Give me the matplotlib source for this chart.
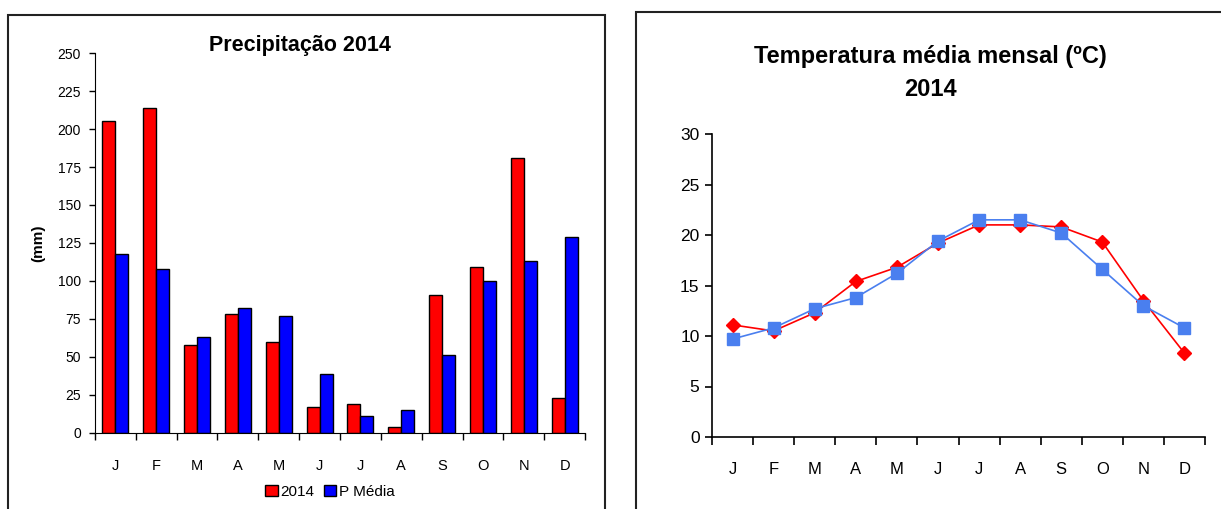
import numpy as np
import matplotlib.pyplot as plt
from matplotlib.patches import Rectangle

months = ["J", "F", "M", "A", "M", "J", "J", "A", "S", "O", "N", "D"]
precip_2014 = [205, 214, 58, 78, 60, 17, 19, 4, 91, 109, 181, 23]
precip_media = [118, 108, 63, 82, 77, 39, 11, 15, 51, 100, 113, 129]
temp_2014 = [11.1, 10.5, 12.3, 15.4, 16.8, 19.2, 21.0, 21.0, 20.8, 19.3, 13.5, 8.3]
temp_media = [9.7, 10.8, 12.7, 13.8, 16.2, 19.4, 21.5, 21.5, 20.2, 16.6, 13.0, 10.8]

plt.rcParams['font.family'] = ['Liberation Sans', 'DejaVu Sans']

W, H = 1221, 509
fig = plt.figure(figsize=(W / 100, H / 100), dpi=100)

# panel frames
fig.patches.append(Rectangle((8 / W, -0.02), (605 - 8) / W, (H - 15) / H + 0.02,
                             transform=fig.transFigure, fill=False, ec="#222222", lw=1.5))
fig.patches.append(Rectangle((636 / W, -0.02), 0.5, (H - 12) / H + 0.02,
                             transform=fig.transFigure, fill=False, ec="#222222", lw=1.5))

x = np.arange(len(months))

# --- precipitation bars ---
ax1 = fig.add_axes([95 / W, (H - 433) / H, (585 - 95) / W, (433 - 53) / H])
w = 0.32
ax1.bar(x - w / 2, precip_2014, w, color="#FF0000", edgecolor="black", lw=1, label="2014")
ax1.bar(x + w / 2, precip_media, w, color="#0000FF", edgecolor="black", lw=1, label="P Média")
ax1.set_xlim(-0.5, 11.5)
ax1.set_ylim(0, 250)
ax1.set_yticks(range(0, 251, 25))
ax1.set_xticks(np.arange(-0.5, 12, 1))
ax1.set_xticklabels([])
ax1.set_xticks(x, minor=True)
ax1.set_xticklabels(months, minor=True)
ax1.tick_params(axis="x", which="minor", length=0, pad=19, labelsize=10.5)
ax1.tick_params(axis="x", which="major", length=5, width=1)
ax1.tick_params(axis="y", length=4, width=1, labelsize=10, pad=6)
for s in ["top", "right"]:
    ax1.spines[s].set_visible(False)
ax1.set_ylabel("(mm)", fontsize=11, fontweight="bold", labelpad=9)
fig.text(300 / W, (H - 45) / H, "Precipitação 2014", ha="center", va="center",
         fontsize=15.5, fontweight="bold")
ax1.legend(loc="upper center", bbox_to_anchor=(0.48, -0.1), ncol=2, frameon=False,
           fontsize=11, handlelength=0.8, handleheight=0.8, handletextpad=0.2,
           columnspacing=0.6)

# --- temperature lines ---
ax2 = fig.add_axes([712 / W, (H - 437) / H, (1205 - 712) / W, (437 - 134) / H])
ax2.plot(x, temp_2014, color="#FF0000", marker="D", ms=7.5, lw=1.2)
ax2.plot(x, temp_media, color="#4A7FEF", marker="s", ms=9, lw=1.2)
ax2.set_xlim(-0.5, 11.5)
ax2.set_ylim(0, 30)
ax2.set_yticks(range(0, 31, 5))
ax2.set_xticks(np.arange(-0.5, 12, 1))
ax2.set_xticklabels([])
ax2.set_xticks(x, minor=True)
ax2.set_xticklabels(months, minor=True)
ax2.tick_params(axis="x", which="minor", length=0, pad=18, labelsize=12)
ax2.tick_params(axis="x", which="major", length=6, width=1.2)
ax2.tick_params(axis="y", length=5, width=1.2, labelsize=12.5, pad=4)
for s in ["top", "right"]:
    ax2.spines[s].set_visible(False)
for s in ["left", "bottom"]:
    ax2.spines[s].set_linewidth(1.2)
fig.text(930 / W, (H - 57) / H, "Temperatura média mensal (ºC)", ha="center", va="center",
         fontsize=17, fontweight="bold")
fig.text(930 / W, (H - 90) / H, "2014", ha="center", va="center",
         fontsize=17, fontweight="bold")

fig.savefig("out.png", dpi=100)
